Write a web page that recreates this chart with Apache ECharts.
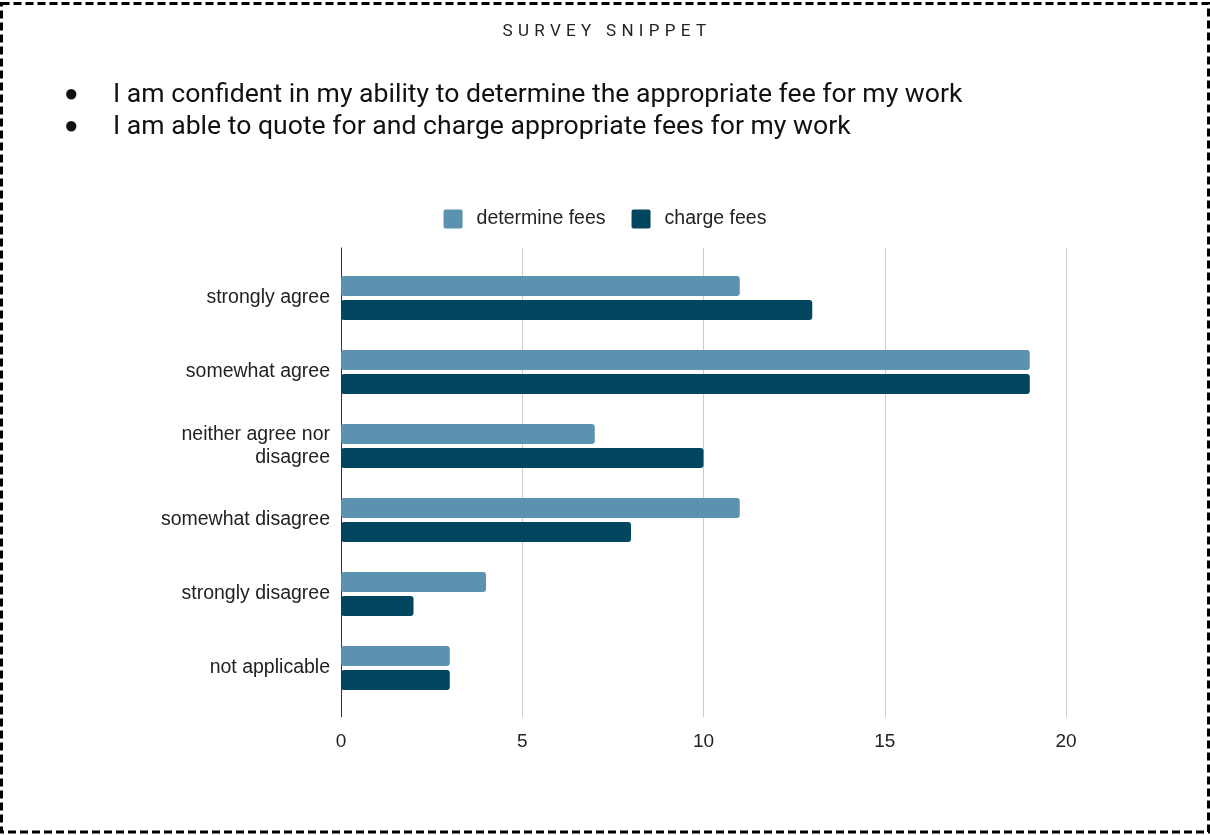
<!DOCTYPE html>
<html>
<head>
<meta charset="utf-8">
<script src="https://cdn.jsdelivr.net/npm/echarts@6/dist/echarts.min.js"></script>
<style>
  html, body { margin: 0; padding: 0; background: #ffffff; }
  #wrap { position: relative; width: 1210px; height: 835px; overflow: hidden; }
  #chart { position: absolute; left: 0; top: 0; width: 1210px; height: 835px; }
  #heading {
    position: absolute; left: 0; top: 20px; width: 1210px; text-align: center;
    font-family: Roboto, sans-serif; font-size: 17px; letter-spacing: 5.3px; color: #222;
    text-indent: 4px;
  }
  #points {
    position: absolute; left: 0; top: 77px; margin: 0; padding: 0; list-style: none;
    font-family: Roboto, sans-serif; font-size: 26.6px; line-height: 32px; color: #111;
  }
  #points li { position: relative; padding-left: 113px; white-space: nowrap; }
  #points li .dot { position: absolute; left: 64px; top: 0; font-size: 24px; }
</style>
</head>
<body>
<div id="wrap">
  <div id="chart"></div>
  <div id="heading">SURVEY SNIPPET</div>
  <ul id="points">
    <li><span class="dot">●</span>I am confident in my ability to determine the appropriate fee for my work</li>
    <li><span class="dot">●</span>I am able to quote for and charge appropriate fees for my work</li>
  </ul>
</div>
<script>
// Survey responses per answer option
const categories = [
  'strongly agree',
  'somewhat agree',
  'neither agree nor\ndisagree',
  'somewhat disagree',
  'strongly disagree',
  'not applicable'
];
const determineFees = [11, 19, 7, 11, 4, 3];
const chargeFees = [13, 19, 10, 8, 2, 3];
const seriesNames = ['determine fees', 'charge fees'];
const xTicks = { min: 0, max: 20, interval: 5 };

const LIGHT = '#5a92b0';
const DARK = '#01455f';
const chartFont = '"Liberation Sans", Arial, sans-serif';

const chart = echarts.init(document.getElementById('chart'), null, { renderer: 'canvas' });

chart.setOption({
  backgroundColor: '#ffffff',
  animation: false,
  textStyle: { fontFamily: chartFont },
  legend: {
    top: 204,
    left: 'center',
    itemWidth: 19,
    itemHeight: 19,
    itemGap: 26,
    icon: 'path://M2,0 L17,0 Q19,0 19,2 L19,17 Q19,19 17,19 L2,19 Q0,19 0,17 L0,2 Q0,0 2,0 Z',
    textStyle: { fontSize: 19.5, color: '#222', fontFamily: chartFont, padding: [0, 0, 0, 9] },
    data: seriesNames
  },
  grid: [
    // frame grid: gridlines, zero line and tick labels
    { left: 341, right: 144, top: 248, bottom: 118 },
    // bar grid: category bands sit inside the frame
    { left: 341, right: 144, top: 261, bottom: 130 }
  ],
  xAxis: [
    {
      gridIndex: 0, type: 'value', min: xTicks.min, max: xTicks.max, interval: xTicks.interval,
      axisLine: { show: false }, axisTick: { show: false },
      splitLine: { show: true, lineStyle: { color: '#cccccc', width: 1 } },
      axisLabel: { fontSize: 19, color: '#222', margin: 15, fontFamily: chartFont }
    },
    {
      gridIndex: 1, type: 'value', min: xTicks.min, max: xTicks.max, interval: xTicks.interval,
      show: false
    }
  ],
  yAxis: [
    {
      gridIndex: 0, type: 'value', min: 0, max: 1,
      axisLine: { show: true, lineStyle: { color: '#333333', width: 1 } },
      axisTick: { show: false }, axisLabel: { show: false }, splitLine: { show: false }
    },
    {
      gridIndex: 1, type: 'category', inverse: true, data: categories,
      axisLine: { show: false }, axisTick: { show: false },
      axisLabel: { fontSize: 19.5, color: '#222', margin: 11, lineHeight: 23, fontFamily: chartFont }
    }
  ],
  series: [
    {
      name: seriesNames[0], type: 'bar', xAxisIndex: 1, yAxisIndex: 1,
      data: determineFees, barWidth: 20, barGap: '20%',
      itemStyle: { color: LIGHT, borderRadius: 3 }
    },
    {
      name: seriesNames[1], type: 'bar', xAxisIndex: 1, yAxisIndex: 1,
      data: chargeFees, barWidth: 20, barGap: '20%',
      itemStyle: { color: DARK, borderRadius: 3 }
    }
  ],
  graphic: [
    {
      type: 'rect', silent: true, z: 100,
      shape: { x: 1.5, y: 3.5, width: 1207, height: 828.5 },
      style: { fill: 'none', stroke: '#000000', lineWidth: 3, lineDash: [8, 4] }
    }
  ]
});
</script>
</body>
</html>
